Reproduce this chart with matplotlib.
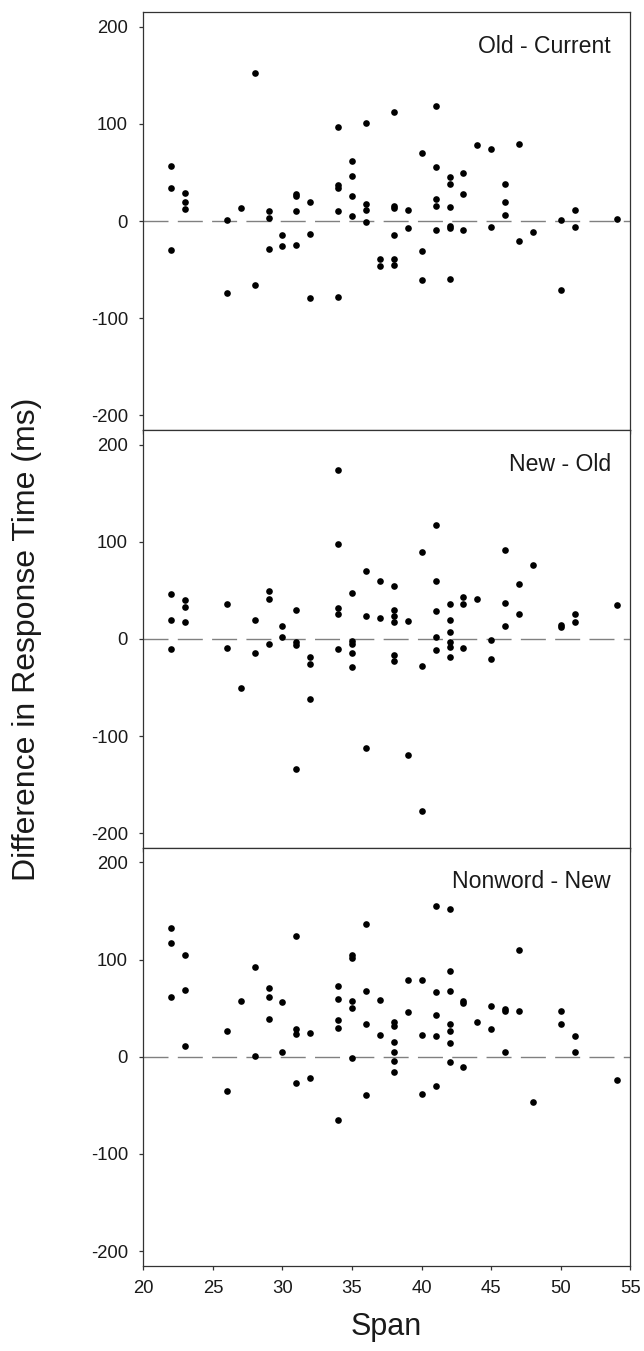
from matplotlib import pyplot as plt

plt.rcParams['font.family'] = ['Liberation Sans', 'DejaVu Sans']
plt.rcParams['axes.unicode_minus'] = False

# Old - Current
span_old_current = [22, 22, 22, 23, 23, 23, 26, 26, 27, 28, 28, 29, 29, 29, 30, 30,
                    31, 31, 31, 31, 32, 32, 32, 34, 34, 34, 34, 34, 35, 35, 35, 35,
                    36, 36, 36, 36, 37, 37, 38, 38, 38, 38, 38, 38, 39, 39, 40, 40, 40,
                    41, 41, 41, 41, 41, 42, 42, 42, 42, 42, 42, 43, 43, 43, 44, 45, 45,
                    46, 46, 46, 47, 47, 48, 50, 50, 51, 51, 54]
diff_old_current = [57, 34, -30, 29, 20, 12, 1, -74, 13, 152, -66, 10, 3, -29, -14, -26,
                    28, 26, 10, -25, 20, -13, -79, 97, 37, 34, 10, -78, 62, 46, 26, 5,
                    101, 18, 11, -1, -39, -46, 112, 16, 13, -14, -39, -45, 11, -7, 70, -31, -61,
                    118, 56, 23, 16, -9, 45, 38, 15, -5, -7, -60, 49, 28, -9, 78, 74, -6,
                    38, 20, 6, 79, -20, -11, 1, -71, 11, -6, 2]

# New - Old
span_new_old = [22, 22, 22, 23, 23, 23, 26, 26, 27, 28, 28, 29, 29, 29, 30, 30,
                31, 31, 31, 31, 32, 32, 32, 34, 34, 34, 34, 34, 35, 35, 35, 35, 35,
                36, 36, 36, 37, 37, 38, 38, 38, 38, 38, 38, 39, 39, 40, 40, 40,
                41, 41, 41, 41, 41, 42, 42, 42, 42, 42, 42, 43, 43, 43, 44, 45, 45,
                46, 46, 46, 47, 47, 48, 50, 50, 51, 51, 54]
diff_new_old = [46, 19, -10, 40, 33, 17, 36, -9, -50, 20, -14, 49, 41, -5, 13, 2,
                30, -3, -6, -134, -19, -26, -62, 174, 98, 32, 26, -10, 47, -2, -5, -14, -29,
                70, 24, -112, 60, 22, 54, 30, 24, 17, -17, -23, 18, -119, 89, -28, -177,
                117, 60, 29, 2, -11, 36, 20, 7, -3, -8, -19, 43, 36, -9, 41, -1, -21,
                92, 37, 13, 57, 26, 76, 14, 12, 26, 17, 35]

# Nonword - New
span_nonword_new = [22, 22, 22, 23, 23, 23, 26, 26, 27, 28, 28, 29, 29, 29, 30, 30,
                    31, 31, 31, 31, 32, 32, 34, 34, 34, 34, 34, 35, 35, 35, 35, 35,
                    36, 36, 36, 36, 37, 37, 38, 38, 38, 38, 38, 38, 39, 39, 40, 40, 40,
                    41, 41, 41, 41, 41, 42, 42, 42, 42, 42, 42, 42, 43, 43, 43, 44, 45, 45,
                    46, 46, 46, 47, 47, 48, 50, 50, 51, 51, 54]
diff_nonword_new = [133, 117, 62, 105, 69, 11, 27, -35, 57, 92, 1, 71, 62, 39, 56, 5,
                    124, 29, 23, -27, 24, -22, 73, 60, 38, 30, -65, 105, 102, 57, 50, -1,
                    137, 68, 34, -39, 58, 22, 36, 32, 15, 5, -4, -16, 79, 46, 79, 22, -38,
                    155, 67, 43, 21, -30, 152, 88, 68, 34, 27, 14, -5, 57, 55, -10, 36, 52, 29,
                    49, 47, 5, 110, 47, -46, 47, 34, 21, 5, -24]

panels = [("Old - Current", span_old_current, diff_old_current),
          ("New - Old", span_new_old, diff_new_old),
          ("Nonword - New", span_nonword_new, diff_nonword_new)]

y_ticks = [-200, -100, 0, 100, 200]
x_ticks = [20, 25, 30, 35, 40, 45, 50, 55]

fig = plt.figure(figsize=(6.44, 13.51), dpi=100)

left = 0.2225
width = 0.7565
height = 0.3093
bottom0 = 0.0631

for i, (title, xs, ys) in enumerate(panels):
    bottom = bottom0 + (2 - i) * height
    ax = fig.add_axes([left, bottom, width, height])
    ax.axhline(0, color='#808080', lw=1, linestyle=(0, (18, 6.7)), zorder=1)
    ax.plot(xs, ys, 'o', color='black', ms=4.8, mec='none', zorder=3)
    ax.set_xlim(20, 55)
    ax.set_ylim(-215, 215)
    ax.set_yticks(y_ticks)
    ax.set_xticks(x_ticks)
    ax.tick_params(direction='out', length=3, width=0.9, color='#333333',
                   labelsize=13.3, labelcolor='#1a1a1a')
    ax.tick_params(axis='y', pad=8)
    ax.tick_params(axis='x', pad=7)
    if i < 2:
        ax.set_xticklabels([])
    for s in ax.spines.values():
        s.set_color('#333333')
        s.set_linewidth(0.9)
    ax.text(0.96, 0.903, title, transform=ax.transAxes, ha='right', va='baseline',
            fontsize=16.6, color='#1a1a1a')

fig.text(0.042, 0.527, "Difference in Response Time (ms)", rotation=90,
         ha='center', va='center', fontsize=23, color='#1a1a1a')
fig.text(0.6, 0.018, "Span", ha='center', va='center', fontsize=22, color='#1a1a1a')

fig.savefig("out.png", dpi=100)
